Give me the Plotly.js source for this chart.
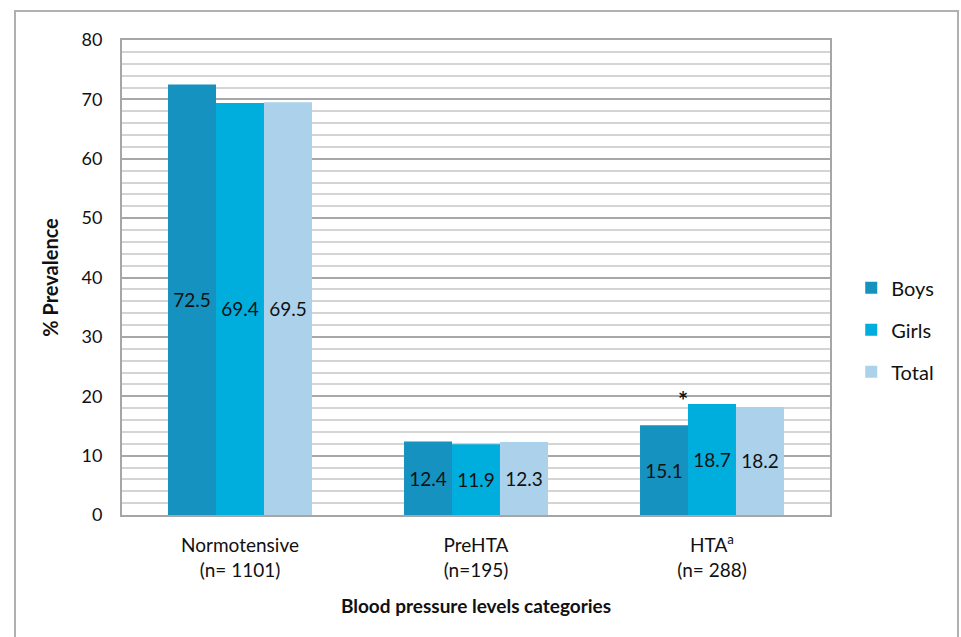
<!DOCTYPE html>
<html>
<head>
<meta charset="utf-8">
<script src="https://cdn.plot.ly/plotly-3.0.1.min.js"></script>
<style>
html,body{margin:0;padding:0;background:#fff;}
#chart{width:961px;height:637px;}
</style>
</head>
<body>
<div id="chart"></div>
<script>
const categories = ['Normotensive<br>(n= 1101)', 'PreHTA<br>(n=195)', 'HTA<sup>a</sup><br>(n= 288)'];
const boys = [72.5, 12.4, 15.1];
const girls = [69.4, 11.9, 18.7];
const total = [69.5, 12.3, 18.2];
const seriesNames = ['Boys', 'Girls', 'Total'];
const colors = ['#1592BF', '#00AEDE', '#ABD2EA'];
const yTicks = [0, 10, 20, 30, 40, 50, 60, 70, 80];
const FONT = 'Lato, "Open Sans", sans-serif';

const seriesValues = [boys, girls, total];
const traces = seriesValues.map((vals, i) => ({
  type: 'bar',
  name: seriesNames[i],
  x: categories,
  y: vals,
  marker: {color: colors[i], line: {width: 0}},
  text: vals.map(v => v.toFixed(1)),
  textposition: 'inside',
  insidetextanchor: 'middle',
  textangle: 0,
  textfont: {family: FONT, size: 19, color: '#111'},
  legendgroup: 'g' + i,
  hoverinfo: 'x+y+name'
}));

const layout = {
  width: 961,
  height: 637,
  margin: {l: 122, r: 131, t: 40, b: 122},
  paper_bgcolor: '#fff',
  plot_bgcolor: '#fff',
  font: {family: FONT, color: '#111', size: 17},
  barmode: 'group',
  bargap: 0.39,
  bargroupgap: 0,
  showlegend: true,
  legend: {
    x: 1.03, xanchor: 'left', y: 0.39, yanchor: 'middle',
    font: {family: FONT, size: 20, color: '#111'},
    tracegroupgap: 13,
    traceorder: 'grouped',
    itemwidth: 30,
    bgcolor: 'rgba(0,0,0,0)'
  },
  xaxis: {
    type: 'category',
    showline: true, linecolor: '#a6a6a6', linewidth: 2, mirror: true,
    showgrid: false, ticks: '',
    ticklabelstandoff: 12,
    tickfont: {family: FONT, size: 19, color: '#111'},
    title: {text: '<b>Blood pressure levels categories</b>', font: {family: FONT, size: 19, color: '#111'}, standoff: 20},
    fixedrange: true
  },
  yaxis: {
    range: [0, 80],
    tickvals: yTicks,
    ticktext: yTicks.map(String),
    showline: true, linecolor: '#a6a6a6', linewidth: 2, mirror: true,
    showgrid: true, gridcolor: '#a8a8a8', gridwidth: 2,
    zeroline: false,
    minor: {dtick: 2, showgrid: true, gridcolor: '#d4d4d4', gridwidth: 2, ticks: ''},
    ticks: '',
    ticklabelstandoff: 14,
    tickfont: {family: FONT, size: 18, color: '#111'},
    title: {text: '<b>% Prevalence</b>', font: {family: FONT, size: 20, color: '#111'}, standoff: 18},
    fixedrange: true
  },
  annotations: [{
    x: categories[2], y: boys[2], xref: 'x', yref: 'y',
    text: '<b>*</b>', showarrow: false,
    xshift: -29, yshift: 8, yanchor: 'bottom',
    font: {family: FONT, size: 24, color: '#111'}
  }],
  shapes: [{
    type: 'rect', xref: 'paper', yref: 'paper',
    x0: (15 - 122) / 708, x1: (958 - 122) / 708,
    y0: (515 - 660) / 475, y1: (515 - 11) / 475,
    line: {color: '#b0b0b0', width: 2}, fillcolor: 'rgba(0,0,0,0)', layer: 'below'
  }]
};

Plotly.newPlot('chart', traces, layout, {displayModeBar: false, staticPlot: true});
</script>
</body>
</html>
